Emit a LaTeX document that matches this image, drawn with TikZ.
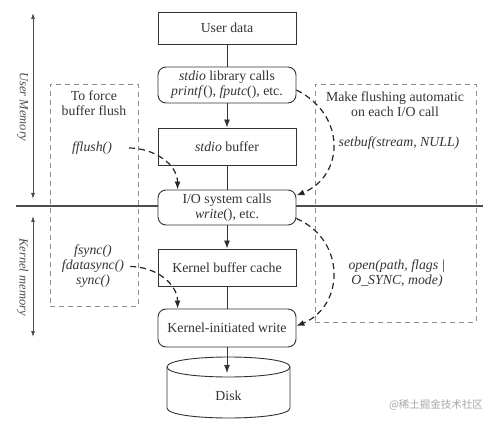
\documentclass[tikz,border=0pt]{standalone}
\usepackage{fontspec}
\setmainfont{Liberation Serif}
\newfontfamily\cjkfont{Noto Sans CJK SC}
\usetikzlibrary{arrows.meta}
\begin{document}
\begin{tikzpicture}[x=1pt,y=-1pt,
 box/.style={draw=black!80, line width=0.9pt, fill=white, minimum width=138pt, inner sep=0pt, align=center, font=\fontsize{13.8}{15}\selectfont, text=black!80},
 rbox/.style={box, rounded corners=8pt},
 dbox/.style={draw=black!45, dash pattern=on 5pt off 4pt, line width=0.9pt, inner sep=0pt},
 lbl/.style={align=center, font=\fontsize{13.8}{15}\selectfont, text=black!80, inner sep=1pt},
 conn/.style={draw=black!80, line width=0.9pt},
 arr/.style={conn, -{Latex[length=8pt,width=6pt]}},
 darr/.style={draw=black!85, line width=1.2pt, dash pattern=on 6pt off 4pt, -{Latex[length=8pt,width=6pt]}},
 memarr/.style={draw=black!70, line width=0.8pt, {Latex[length=6pt,width=4pt]}-{Latex[length=6pt,width=4pt]}},
 memlbl/.style={rotate=-90, font=\fontsize{12.5}{14}\selectfont\itshape, text=black!70}
]
\useasboundingbox (0,0) rectangle (490,422);

% separator line
\coordinate (hl1) at (16,206);
\coordinate (hl2) at (483,206);
\draw[line width=2pt, black!70] (hl1) -- (hl2);

% memory arrows
\coordinate (um1) at (33,13);
\coordinate (um2) at (33,199);
\coordinate (km1) at (33,216);
\coordinate (km2) at (33,337);
\draw[memarr] (um1) -- (um2);
\draw[memarr] (km1) -- (km2);
\node[memlbl] (uml) at (22.5,107) {User Memory};
\node[memlbl] (kml) at (22.5,277) {Kernel memory};

% dashed boxes
\node[dbox, minimum width=88pt, minimum height=222pt] (lbox) at (94,195) {};
\node[dbox, minimum width=161pt, minimum height=238pt] (rbx) at (395.5,203) {};

% main column
\node[box, minimum height=32pt] (ud) at (227,28) {User data};
\node[rbox, minimum height=36pt] (lib) at (227,85) {\textit{stdio} library calls\\\textit{printf}(), \textit{fputc}(), etc.};
\node[box, minimum height=37pt] (buf) at (227,146.5) {\textit{stdio} buffer};
\node[rbox, minimum height=35pt] (io) at (227,207.5) {I/O system calls\\\textit{write}(), etc.};
\node[box, minimum height=37pt] (kbc) at (227,267.5) {Kernel buffer cache};
\node[rbox, minimum height=38pt] (kiw) at (227,328) {Kernel-initiated write};

% disk
\draw[conn, fill=white] (167,367) -- (167,408) .. controls (167,421.33) and (290,421.33) .. (290,408) -- (290,367) .. controls (290,353.67) and (167,353.67) .. (167,367) -- cycle;
\draw[conn] (167,367) .. controls (167,380.33) and (290,380.33) .. (290,367);
\node[lbl] (disk) at (228.5,396) {Disk};
\coordinate (disktop) at (227,373);

% solid connectors
\draw[conn] (ud) -- (lib);
\draw[arr] (lib) -- (buf);
\draw[conn] (buf) -- (io);
\draw[arr] (io) -- (kbc);
\draw[conn] (kbc) -- (kiw);
\draw[arr] (kiw) -- (disktop);

% side texts
\node[lbl] (tf) at (94,103.5) {To force\\buffer flush};
\node[lbl] (ff) at (92,148) {\textit{fflush()}};
\node[lbl] (fs) at (93,266.5) {\textit{fsync()}\\\textit{fdatasync()}\\\textit{sync()}};
\node[lbl] (mf) at (395,104) {Make flushing automatic\\on each I/O call};
\node[lbl] (sb) at (399,143) {\textit{setbuf(stream, NULL)}};
\node[lbl] (op) at (397,274) {\textit{open(path, flags |}\\\textit{O\_SYNC, mode)}};

% dashed arrows
\draw[darr] ([xshift=16pt]ff.east) .. controls +(25,0) and +(0,-25) .. ([xshift=20pt]io.north west);
\draw[darr] ([xshift=5pt]fs.east) .. controls +(25,0) and +(0,-25) .. ([xshift=20pt]kiw.north west);
\draw[darr] ([yshift=-5pt]lib.east) .. controls +(50,25) and +(48,-20) .. ([yshift=12pt]io.east);
\draw[darr] ([yshift=-11pt]io.east) .. controls +(50,22) and +(48,-20) .. ([yshift=2pt]kiw.east);

% watermark
\node[font=\cjkfont\fontsize{10.5}{12}\selectfont, text=black!35] (wm) at (436,405) {@稀土掘金技术社区};
\end{tikzpicture}
\end{document}
